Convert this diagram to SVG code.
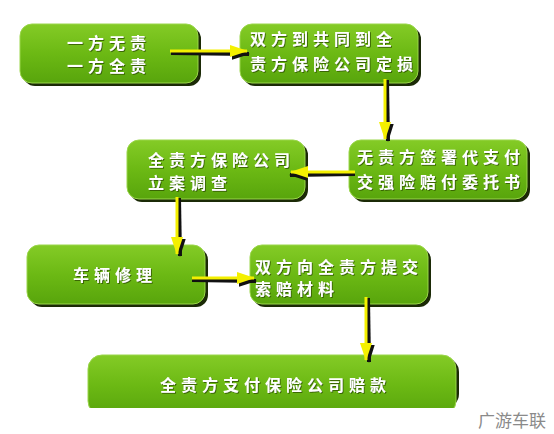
<svg xmlns="http://www.w3.org/2000/svg" width="554" height="434" viewBox="0 0 554 434">
<defs>
<linearGradient id="g" x1="0" y1="0" x2="0" y2="1">
<stop offset="0" stop-color="#84cb26"/>
<stop offset="0.5" stop-color="#6cb914"/>
<stop offset="1" stop-color="#58a50c"/>
</linearGradient>
<filter id="ts" x="-10%" y="-30%" width="120%" height="160%">
<feDropShadow dx="1" dy="1" stdDeviation="0.4" flood-color="#2d5200" flood-opacity="0.8"/>
</filter>
<marker id="hy" markerWidth="18" markerHeight="12" refX="17" refY="6" orient="auto" markerUnits="userSpaceOnUse" viewBox="0 0 18 12">
<path d="M0,0 L18,6 L0,12 z" fill="#f4f000"/>
</marker>
<marker id="hk" markerWidth="18" markerHeight="12" refX="17" refY="6" orient="auto" markerUnits="userSpaceOnUse" viewBox="0 0 18 12">
<path d="M0,0 L18,6 L0,12 z" fill="#111"/>
</marker>
<style>
.box{fill:url(#g);stroke:#9ad64a;stroke-width:1}
.sh{fill:#1b2a06}
.t{font-family:"Noto Sans CJK SC","Noto Sans",sans-serif;font-weight:bold;font-size:16px;fill:#fff;letter-spacing:5px;filter:url(#ts)}
.ak{stroke:#111;stroke-width:4;fill:none}
.ay{stroke:#f4f000;stroke-width:3;fill:none}
.wm{font-family:"Noto Sans CJK SC",sans-serif;font-size:17px;fill:#8a8a8a}
</style>
</defs>
<rect width="554" height="434" fill="#fff"/>
<g id="n1">
<rect class="sh" x="23" y="27" width="178" height="59" rx="12"/>
<rect class="box" x="20" y="24" width="178" height="59" rx="12"/>
<text class="t" x="67" y="49">一方无责</text>
<text class="t" x="67" y="72">一方全责</text>
</g>
<g id="n2">
<rect class="sh" x="243" y="27" width="178" height="59" rx="12"/>
<rect class="box" x="240" y="24" width="178" height="59" rx="12"/>
<text class="t" x="250" y="45">双方到共同到全</text>
<text class="t" x="250" y="70">责方保险公司定损</text>
</g>
<g id="n3">
<rect class="sh" x="130" y="143" width="178" height="59" rx="12"/>
<rect class="box" x="127" y="140" width="178" height="59" rx="12"/>
<text class="t" x="148" y="166">全责方保险公司</text>
<text class="t" x="148" y="189">立案调查</text>
</g>
<g id="n4">
<rect class="sh" x="352" y="143" width="178" height="59" rx="12"/>
<rect class="box" x="349" y="140" width="178" height="59" rx="12"/>
<text class="t" x="357" y="163">无责方签署代支付</text>
<text class="t" x="357" y="188">交强险赔付委托书</text>
</g>
<g id="n5">
<rect class="sh" x="30" y="248" width="178" height="59" rx="12"/>
<rect class="box" x="27" y="245" width="178" height="59" rx="12"/>
<text class="t" x="73" y="281">车辆修理</text>
</g>
<g id="n6">
<rect class="sh" x="253" y="248" width="178" height="59" rx="12"/>
<rect class="box" x="250" y="245" width="178" height="59" rx="12"/>
<text class="t" x="255" y="273">双方向全责方提交</text>
<text class="t" x="255" y="295">索赔材料</text>
</g>
<g id="n7">
<rect class="sh" x="91" y="358" width="368" height="50" rx="14"/>
<rect class="box" x="88" y="355" width="368" height="60" rx="14"/>
<rect x="80" y="408" width="390" height="26" fill="#fff"/>
<text class="t" x="160" y="391">全责方支付保险公司赔款</text>
</g>
<g id="connectors">
<path class="ak" d="M171,53 L249,54" marker-end="url(#hk)"/>
<path class="ay" d="M170,51 L247,51" marker-end="url(#hy)"/>
<path class="ak" d="M387,80 L388,141" marker-end="url(#hk)"/>
<path class="ay" d="M385,79 L385,139" marker-end="url(#hy)"/>
<path class="ak" d="M355,174 L290,175" marker-end="url(#hk)"/>
<path class="ay" d="M355,172 L291,172" marker-end="url(#hy)"/>
<path class="ak" d="M179,198 L180,256" marker-end="url(#hk)"/>
<path class="ay" d="M177,197 L177,254" marker-end="url(#hy)"/>
<path class="ak" d="M192,280 L256,281" marker-end="url(#hk)"/>
<path class="ay" d="M192,278 L254,278" marker-end="url(#hy)"/>
<path class="ak" d="M368,298 L369,362" marker-end="url(#hk)"/>
<path class="ay" d="M366,297 L366,360" marker-end="url(#hy)"/>
</g>
<text class="wm" x="478" y="427">广游车联</text>
</svg>
